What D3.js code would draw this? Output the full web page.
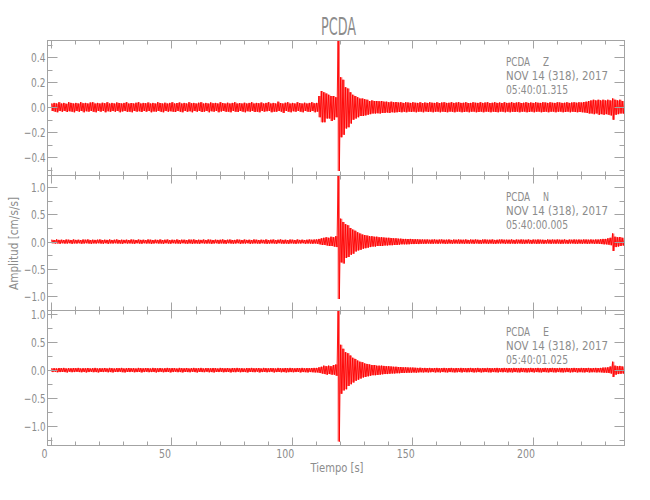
<!DOCTYPE html>
<html><head><meta charset="utf-8">
<script src="https://cdn.jsdelivr.net/npm/d3@7"></script>
<style>
html,body{margin:0;padding:0;background:#fff;}
svg{display:block;}
text{font-family:"Liberation Sans Narrow","DejaVu Sans Condensed","Liberation Sans",sans-serif;fill:#8c8c8c;}
</style></head><body>
<svg id="c" width="650" height="500"></svg>
<script>
// ---------- texts ----------
const title = "PCDA";
const station = "PCDA";
const components = ["Z", "N", "E"];
const dateLabel = "NOV 14 (318), 2017";
const startTimes = ["05:40:01.315", "05:40:00.005", "05:40:01.025"];
const xTitle = "Tiempo [s]";
const yTitle = "Amplitud [cm/s/s]";

// ---------- ticks ----------
const xTickValues = [0, 50, 100, 150, 200];
const xTickLabels = ["0", "50", "100", "150", "200"];
const xMinorValues = [10,20,30,40,60,70,80,90,110,120,130,140,160,170,180,190,210,220,230];
const xDomain = [-1.5, 238.2];
const yDomains = [[-0.546, 0.534], [-1.26, 1.21], [-1.34, 1.06]];
const yTickValues = [[-0.4,-0.2,0,0.2,0.4], [-1,-0.5,0,0.5,1], [-1,-0.5,0,0.5,1]];
const yTickLabels = [["−0.4","−0.2","0.0","0.2","0.4"], ["−1.0","−0.5","0.0","0.5","1.0"], ["−1.0","−0.5","0.0","0.5","1.0"]];
const yMinorValues = [[-0.5,-0.3,-0.1,0.1,0.3,0.5], [-1.25,-0.75,-0.25,0.25,0.75], [-1.25,-0.75,-0.25,0.25,0.75]];

// ---------- data: per-second peak (hi) and trough (lo), cm/s/s, t = 0..238 s ----------
const Z_hi = [
0.03,0.035,0.03,0.04,0.03,0.035,0.028,0.04,0.035,0.03,
0.035,0.03,0.04,0.032,0.035,0.03,0.038,0.04,0.03,0.035,
0.03,0.036,0.032,0.04,0.03,0.035,0.03,0.038,0.034,0.03,
0.035,0.04,0.03,0.034,0.03,0.036,0.04,0.03,0.035,0.032,
0.038,0.03,0.035,0.03,0.04,0.034,0.03,0.036,0.03,0.035,
0.04,0.03,0.034,0.038,0.03,0.035,0.03,0.04,0.032,0.035,
0.03,0.036,0.04,0.03,0.035,0.03,0.038,0.032,0.035,0.03,
0.04,0.034,0.03,0.036,0.03,0.035,0.04,0.03,0.034,0.03,
0.036,0.03,0.035,0.04,0.03,0.035,0.032,0.038,0.03,0.035,
0.04,0.03,0.035,0.03,0.045,0.034,0.03,0.036,0.04,0.03,
0.035,0.03,0.04,0.034,0.03,0.036,0.03,0.035,0.04,0.032,
0.035,0.09,0.13,0.12,0.11,0.1,0.09,0.09,0.08,0.6,
0.24,0.22,0.16,0.15,0.12,0.1,0.09,0.08,0.07,0.07,
0.065,0.06,0.05,0.055,0.05,0.05,0.048,0.05,0.045,0.045,
0.04,0.045,0.04,0.042,0.038,0.04,0.035,0.04,0.038,0.035,
0.04,0.036,0.035,0.04,0.034,0.038,0.035,0.04,0.036,0.035,
0.04,0.034,0.038,0.04,0.035,0.036,0.04,0.035,0.038,0.04,
0.035,0.036,0.04,0.034,0.035,0.04,0.036,0.035,0.04,0.035,
0.038,0.04,0.034,0.036,0.04,0.035,0.038,0.034,0.04,0.035,
0.036,0.04,0.035,0.038,0.04,0.034,0.036,0.04,0.035,0.038,
0.035,0.04,0.036,0.035,0.04,0.038,0.035,0.04,0.036,0.035,
0.04,0.038,0.035,0.036,0.04,0.035,0.038,0.04,0.036,0.04,
0.038,0.042,0.045,0.05,0.055,0.06,0.055,0.06,0.055,0.06,
0.055,0.06,0.055,0.07,0.06,0.055,0.06,0.05,0.045];
const Z_lo = [
-0.03,-0.035,-0.04,-0.03,-0.035,-0.03,-0.038,-0.032,-0.035,-0.04,
-0.03,-0.035,-0.03,-0.04,-0.032,-0.035,-0.03,-0.036,-0.04,-0.03,
-0.035,-0.03,-0.04,-0.032,-0.036,-0.03,-0.035,-0.03,-0.04,-0.034,
-0.03,-0.036,-0.035,-0.04,-0.03,-0.035,-0.032,-0.038,-0.03,-0.035,
-0.03,-0.04,-0.034,-0.035,-0.03,-0.036,-0.04,-0.03,-0.035,-0.032,
-0.035,-0.038,-0.03,-0.035,-0.04,-0.03,-0.036,-0.032,-0.04,-0.03,
-0.035,-0.03,-0.038,-0.035,-0.03,-0.04,-0.032,-0.035,-0.03,-0.04,
-0.034,-0.03,-0.036,-0.035,-0.04,-0.03,-0.035,-0.038,-0.03,-0.035,
-0.04,-0.032,-0.035,-0.03,-0.038,-0.035,-0.04,-0.03,-0.035,-0.032,
-0.03,-0.04,-0.035,-0.036,-0.03,-0.035,-0.045,-0.03,-0.035,-0.04,
-0.032,-0.036,-0.03,-0.035,-0.04,-0.03,-0.035,-0.038,-0.03,-0.04,
-0.035,-0.08,-0.12,-0.12,-0.09,-0.09,-0.11,-0.1,-0.08,-0.51,
-0.24,-0.22,-0.17,-0.16,-0.13,-0.1,-0.09,-0.08,-0.07,-0.07,
-0.065,-0.06,-0.055,-0.05,-0.05,-0.048,-0.05,-0.045,-0.045,-0.042,
-0.045,-0.04,-0.042,-0.04,-0.038,-0.04,-0.036,-0.04,-0.035,-0.038,
-0.035,-0.04,-0.036,-0.035,-0.04,-0.034,-0.038,-0.035,-0.04,-0.036,
-0.035,-0.04,-0.035,-0.038,-0.04,-0.035,-0.036,-0.04,-0.035,-0.035,
-0.04,-0.038,-0.035,-0.04,-0.036,-0.035,-0.04,-0.038,-0.035,-0.04,
-0.035,-0.036,-0.04,-0.035,-0.038,-0.04,-0.035,-0.036,-0.04,-0.035,
-0.04,-0.036,-0.038,-0.035,-0.04,-0.036,-0.035,-0.04,-0.038,-0.035,
-0.04,-0.036,-0.035,-0.04,-0.038,-0.035,-0.04,-0.036,-0.035,-0.04,
-0.036,-0.035,-0.04,-0.038,-0.035,-0.04,-0.036,-0.038,-0.04,-0.038,
-0.04,-0.042,-0.045,-0.05,-0.05,-0.055,-0.05,-0.06,-0.055,-0.06,
-0.055,-0.06,-0.065,-0.1,-0.06,-0.055,-0.05,-0.05,-0.045];
const N_hi = [
0.035,0.03,0.04,0.032,0.035,0.03,0.038,0.035,0.03,0.04,
0.032,0.035,0.03,0.038,0.035,0.04,0.03,0.035,0.032,0.036,
0.04,0.03,0.035,0.032,0.038,0.03,0.035,0.04,0.03,0.035,
0.032,0.036,0.03,0.04,0.035,0.03,0.038,0.032,0.035,0.03,
0.04,0.035,0.03,0.036,0.032,0.04,0.03,0.035,0.038,0.03,
0.035,0.032,0.04,0.03,0.036,0.035,0.03,0.038,0.035,0.04,
0.03,0.035,0.032,0.038,0.03,0.04,0.035,0.03,0.036,0.032,
0.035,0.04,0.03,0.035,0.038,0.03,0.032,0.04,0.035,0.03,
0.038,0.032,0.035,0.03,0.04,0.035,0.03,0.036,0.032,0.04,
0.03,0.035,0.038,0.03,0.035,0.04,0.032,0.035,0.03,0.038,
0.035,0.03,0.04,0.032,0.036,0.03,0.035,0.04,0.035,0.038,
0.04,0.05,0.06,0.07,0.08,0.07,0.09,0.08,0.1,1.3,
0.42,0.36,0.32,0.3,0.25,0.22,0.2,0.17,0.15,0.13,
0.12,0.11,0.1,0.1,0.09,0.09,0.08,0.08,0.075,0.07,
0.07,0.065,0.06,0.06,0.055,0.055,0.05,0.05,0.048,0.05,
0.045,0.045,0.042,0.04,0.04,0.038,0.04,0.035,0.038,0.04,
0.035,0.038,0.04,0.035,0.036,0.04,0.032,0.038,0.035,0.04,
0.036,0.035,0.04,0.032,0.038,0.035,0.04,0.035,0.032,0.038,
0.04,0.035,0.036,0.04,0.032,0.035,0.038,0.04,0.035,0.036,
0.035,0.04,0.032,0.038,0.035,0.04,0.036,0.035,0.04,0.032,
0.038,0.035,0.04,0.036,0.035,0.032,0.04,0.035,0.038,0.035,
0.04,0.036,0.035,0.04,0.032,0.038,0.035,0.04,0.036,0.038,
0.035,0.04,0.038,0.036,0.04,0.035,0.04,0.038,0.045,0.05,
0.05,0.06,0.07,0.15,0.09,0.08,0.085,0.07,0.06];
const N_lo = [
-0.03,-0.035,-0.032,-0.04,-0.03,-0.036,-0.035,-0.03,-0.04,-0.032,
-0.035,-0.03,-0.038,-0.035,-0.03,-0.035,-0.04,-0.032,-0.035,-0.03,
-0.035,-0.038,-0.03,-0.04,-0.032,-0.035,-0.03,-0.036,-0.035,-0.04,
-0.03,-0.035,-0.032,-0.035,-0.04,-0.03,-0.035,-0.038,-0.03,-0.035,
-0.032,-0.04,-0.035,-0.03,-0.036,-0.035,-0.04,-0.03,-0.035,-0.038,
-0.03,-0.035,-0.036,-0.04,-0.03,-0.035,-0.038,-0.032,-0.04,-0.035,
-0.035,-0.04,-0.03,-0.035,-0.036,-0.032,-0.04,-0.035,-0.03,-0.038,
-0.032,-0.035,-0.04,-0.03,-0.035,-0.038,-0.035,-0.03,-0.04,-0.035,
-0.035,-0.03,-0.04,-0.036,-0.032,-0.035,-0.038,-0.03,-0.035,-0.04,
-0.036,-0.032,-0.035,-0.04,-0.03,-0.035,-0.038,-0.035,-0.04,-0.032,
-0.035,-0.04,-0.032,-0.035,-0.03,-0.038,-0.035,-0.036,-0.04,-0.035,
-0.04,-0.05,-0.06,-0.06,-0.07,-0.08,-0.08,-0.09,-0.1,-1.05,
-0.38,-0.4,-0.3,-0.28,-0.24,-0.22,-0.18,-0.16,-0.15,-0.13,
-0.12,-0.11,-0.1,-0.09,-0.09,-0.08,-0.08,-0.08,-0.07,-0.07,
-0.065,-0.065,-0.06,-0.06,-0.055,-0.05,-0.05,-0.05,-0.048,-0.045,
-0.045,-0.042,-0.045,-0.04,-0.038,-0.04,-0.036,-0.038,-0.04,-0.035,
-0.04,-0.036,-0.035,-0.04,-0.038,-0.035,-0.04,-0.036,-0.035,-0.038,
-0.035,-0.04,-0.036,-0.038,-0.035,-0.04,-0.032,-0.038,-0.04,-0.035,
-0.036,-0.04,-0.035,-0.038,-0.04,-0.035,-0.036,-0.032,-0.04,-0.035,
-0.038,-0.035,-0.04,-0.036,-0.035,-0.038,-0.04,-0.035,-0.036,-0.04,
-0.035,-0.04,-0.038,-0.035,-0.04,-0.036,-0.035,-0.04,-0.035,-0.038,
-0.036,-0.04,-0.038,-0.035,-0.04,-0.036,-0.035,-0.038,-0.04,-0.036,
-0.04,-0.036,-0.04,-0.038,-0.035,-0.04,-0.038,-0.04,-0.045,-0.05,
-0.05,-0.055,-0.065,-0.17,-0.1,-0.09,-0.08,-0.07,-0.06];
const E_hi = [
0.032,0.035,0.03,0.038,0.035,0.04,0.03,0.035,0.032,0.036,
0.035,0.04,0.03,0.035,0.032,0.038,0.03,0.035,0.04,0.03,
0.035,0.032,0.038,0.03,0.04,0.035,0.03,0.036,0.035,0.04,
0.03,0.035,0.038,0.032,0.035,0.03,0.04,0.035,0.032,0.036,
0.035,0.03,0.04,0.035,0.032,0.038,0.03,0.035,0.04,0.032,
0.036,0.035,0.03,0.04,0.035,0.032,0.038,0.03,0.035,0.04,
0.032,0.035,0.04,0.03,0.036,0.035,0.032,0.038,0.035,0.03,
0.04,0.035,0.032,0.036,0.03,0.038,0.035,0.04,0.032,0.035,
0.03,0.038,0.035,0.04,0.032,0.035,0.036,0.03,0.04,0.035,
0.032,0.036,0.035,0.03,0.04,0.035,0.032,0.038,0.035,0.04,
0.035,0.032,0.038,0.035,0.04,0.032,0.036,0.035,0.038,0.04,
0.04,0.05,0.06,0.08,0.07,0.08,0.07,0.09,0.1,1.2,
0.45,0.38,0.32,0.3,0.26,0.22,0.2,0.17,0.15,0.14,
0.12,0.11,0.1,0.09,0.09,0.08,0.08,0.08,0.075,0.07,
0.07,0.065,0.06,0.06,0.055,0.055,0.05,0.05,0.048,0.045,
0.045,0.042,0.04,0.042,0.038,0.04,0.036,0.04,0.035,0.038,
0.04,0.035,0.036,0.04,0.035,0.038,0.04,0.032,0.038,0.035,
0.04,0.036,0.035,0.038,0.04,0.035,0.036,0.04,0.032,0.038,
0.035,0.04,0.036,0.035,0.038,0.04,0.035,0.036,0.04,0.035,
0.038,0.035,0.04,0.036,0.035,0.04,0.038,0.035,0.036,0.04,
0.035,0.038,0.04,0.035,0.036,0.04,0.035,0.038,0.04,0.036,
0.035,0.04,0.038,0.036,0.04,0.035,0.038,0.04,0.036,0.035,
0.04,0.038,0.036,0.04,0.035,0.038,0.04,0.036,0.04,0.045,
0.045,0.05,0.065,0.15,0.08,0.07,0.075,0.065,0.055];
const E_lo = [
-0.035,-0.03,-0.038,-0.035,-0.032,-0.035,-0.04,-0.03,-0.036,-0.035,
-0.03,-0.035,-0.038,-0.032,-0.04,-0.035,-0.03,-0.036,-0.035,-0.04,
-0.032,-0.035,-0.03,-0.038,-0.035,-0.04,-0.032,-0.035,-0.03,-0.036,
-0.04,-0.032,-0.035,-0.03,-0.038,-0.035,-0.032,-0.04,-0.035,-0.03,
-0.036,-0.035,-0.032,-0.04,-0.035,-0.03,-0.038,-0.035,-0.032,-0.04,
-0.035,-0.03,-0.036,-0.035,-0.04,-0.032,-0.035,-0.038,-0.03,-0.035,
-0.04,-0.032,-0.035,-0.036,-0.03,-0.038,-0.035,-0.04,-0.032,-0.035,
-0.03,-0.038,-0.035,-0.032,-0.04,-0.035,-0.036,-0.03,-0.038,-0.035,
-0.035,-0.04,-0.032,-0.035,-0.036,-0.03,-0.04,-0.035,-0.032,-0.038,
-0.035,-0.03,-0.04,-0.035,-0.032,-0.038,-0.035,-0.04,-0.036,-0.035,
-0.038,-0.035,-0.032,-0.04,-0.035,-0.036,-0.04,-0.035,-0.038,-0.04,
-0.04,-0.05,-0.06,-0.07,-0.08,-0.07,-0.08,-0.08,-0.1,-1.27,
-0.42,-0.36,-0.34,-0.28,-0.25,-0.22,-0.19,-0.17,-0.15,-0.13,
-0.12,-0.11,-0.1,-0.09,-0.09,-0.085,-0.08,-0.075,-0.07,-0.07,
-0.065,-0.06,-0.06,-0.055,-0.055,-0.05,-0.05,-0.048,-0.045,-0.045,
-0.042,-0.045,-0.04,-0.038,-0.04,-0.036,-0.04,-0.038,-0.035,-0.04,
-0.036,-0.04,-0.035,-0.038,-0.04,-0.035,-0.036,-0.04,-0.038,-0.035,
-0.04,-0.035,-0.038,-0.036,-0.035,-0.04,-0.038,-0.035,-0.04,-0.036,
-0.035,-0.038,-0.04,-0.035,-0.036,-0.04,-0.035,-0.038,-0.035,-0.04,
-0.036,-0.04,-0.035,-0.038,-0.04,-0.035,-0.036,-0.04,-0.038,-0.035,
-0.04,-0.035,-0.038,-0.04,-0.035,-0.036,-0.04,-0.035,-0.038,-0.04,
-0.035,-0.038,-0.04,-0.036,-0.035,-0.04,-0.038,-0.035,-0.04,-0.036,
-0.038,-0.04,-0.035,-0.04,-0.038,-0.036,-0.04,-0.038,-0.04,-0.045,
-0.045,-0.05,-0.06,-0.12,-0.08,-0.07,-0.065,-0.06,-0.05];

const traces = [[Z_hi, Z_lo], [N_hi, N_lo], [E_hi, E_lo]];

// ---------- layout ----------
const L = 47.5, R = 624.5, T = 40.5, PH = 135;
const lineCol = "#a3a3a3";
const svg = d3.select("#c");

const x = d3.scaleLinear().domain(xDomain).range([L, R]);

function tlen(s, digitW) {
  let w = 0;
  for (const ch of s) w += (ch === "." ? 3.2 : ch === "−" ? 7 : digitW);
  return w;
}

components.forEach((comp, p) => {
  const top = T + p * PH, bot = top + PH;
  const y = d3.scaleLinear().domain(yDomains[p]).range([bot, top]);
  const g = svg.append("g");

  const cid = "clip" + p;
  svg.append("clipPath").attr("id", cid).append("rect")
    .attr("x", L).attr("y", top).attr("width", R - L).attr("height", PH);

  const [hi, lo] = traces[p];
  const n = Math.min(hi.length, lo.length);
  const bins = d3.range(n).map(i => ({t: i, hi: hi[i], lo: lo[i]}));
  const tr = g.append("g").attr("clip-path", `url(#${cid})`);

  // envelope band
  const area = d3.area().curve(d3.curveStepAfter)
    .x(d => x(d.t)).y0(d => y(d.lo)).y1(d => y(d.hi));
  tr.append("path").attr("d", area(bins.concat([{t: n, hi: hi[n-1], lo: lo[n-1]}])))
    .attr("fill", "#ff0000").attr("fill-opacity", 0.55).attr("stroke", "none");

  // zigzag trace (peak then trough in each second)
  const pts = [];
  bins.forEach(d => { pts.push([d.t + 0.25, d.hi]); pts.push([d.t + 0.75, d.lo]); });
  const line = d3.line().x(d => x(d[0])).y(d => y(d[1]));
  tr.append("path").attr("d", line(pts))
    .attr("fill", "none").attr("stroke", "#ff0000").attr("stroke-width", 0.9);

  // frame
  g.append("rect").attr("x", L).attr("y", top).attr("width", R - L).attr("height", PH)
    .attr("fill", "none").attr("stroke", lineCol).attr("stroke-width", 1);

  const xt = g.append("g").attr("stroke", lineCol).attr("stroke-width", 1);
  xTickValues.forEach(v => {
    const xx = Math.round(x(v)) + 0.5;
    xt.append("line").attr("x1", xx).attr("x2", xx).attr("y1", top).attr("y2", top + 8);
    xt.append("line").attr("x1", xx).attr("x2", xx).attr("y1", bot).attr("y2", bot - 8);
  });
  xMinorValues.forEach(v => {
    const xx = Math.round(x(v)) + 0.5;
    xt.append("line").attr("x1", xx).attr("x2", xx).attr("y1", top).attr("y2", top + 4);
    xt.append("line").attr("x1", xx).attr("x2", xx).attr("y1", bot).attr("y2", bot - 4);
  });

  yTickValues[p].forEach((v, i) => {
    const yy = Math.round(y(v)) + 0.5;
    xt.append("line").attr("x1", L).attr("x2", L + 10).attr("y1", yy).attr("y2", yy);
    xt.append("line").attr("x1", R).attr("x2", R - 10).attr("y1", yy).attr("y2", yy);
    const lab = yTickLabels[p][i];
    g.append("text").attr("x", L - 2).attr("y", yy + 4.3)
      .attr("text-anchor", "end").attr("font-size", 12.5)
      .attr("textLength", tlen(lab, 5.6)).attr("lengthAdjust", "spacingAndGlyphs")
      .text(lab);
  });
  yMinorValues[p].forEach(v => {
    if (v < yDomains[p][0] || v > yDomains[p][1]) return;
    const yy = Math.round(y(v)) + 0.5;
    xt.append("line").attr("x1", L).attr("x2", L + 5).attr("y1", yy).attr("y2", yy);
    xt.append("line").attr("x1", R).attr("x2", R - 5).attr("y1", yy).attr("y2", yy);
  });

  const ax = 506;
  g.append("text").attr("x", ax).attr("y", top + 25).attr("font-size", 12.5)
    .attr("textLength", 24).attr("lengthAdjust", "spacingAndGlyphs").text(station);
  g.append("text").attr("x", 543).attr("y", top + 25).attr("font-size", 12.5)
    .attr("textLength", 6).attr("lengthAdjust", "spacingAndGlyphs").text(comp);
  g.append("text").attr("x", ax).attr("y", top + 39).attr("font-size", 12.5)
    .attr("textLength", 102).attr("lengthAdjust", "spacingAndGlyphs").text(dateLabel);
  g.append("text").attr("x", ax).attr("y", top + 53).attr("font-size", 12.5)
    .attr("textLength", 62).attr("lengthAdjust", "spacingAndGlyphs").text(startTimes[p]);
});

const bottom = T + 3 * PH;
xTickValues.forEach((v, i) => {
  const lab = xTickLabels[i];
  svg.append("text").attr("x", x(v) - 6.5).attr("y", bottom + 12.5)
    .attr("text-anchor", "middle").attr("font-size", 12.5)
    .attr("textLength", tlen(lab, 6)).attr("lengthAdjust", "spacingAndGlyphs")
    .text(lab);
});

svg.append("text").attr("x", 338.5).attr("y", 35).attr("text-anchor", "middle")
  .attr("font-size", 24).attr("textLength", 35).attr("lengthAdjust", "spacingAndGlyphs")
  .text(title);
svg.append("text").attr("x", 337).attr("y", 472).attr("text-anchor", "middle")
  .attr("font-size", 12.5).attr("textLength", 53).attr("lengthAdjust", "spacingAndGlyphs")
  .text(xTitle);
svg.append("text").attr("transform", "translate(18,243.5) rotate(-90)")
  .attr("text-anchor", "middle").attr("font-size", 12.5)
  .attr("textLength", 93).attr("lengthAdjust", "spacingAndGlyphs")
  .text(yTitle);
</script>
</body></html>
